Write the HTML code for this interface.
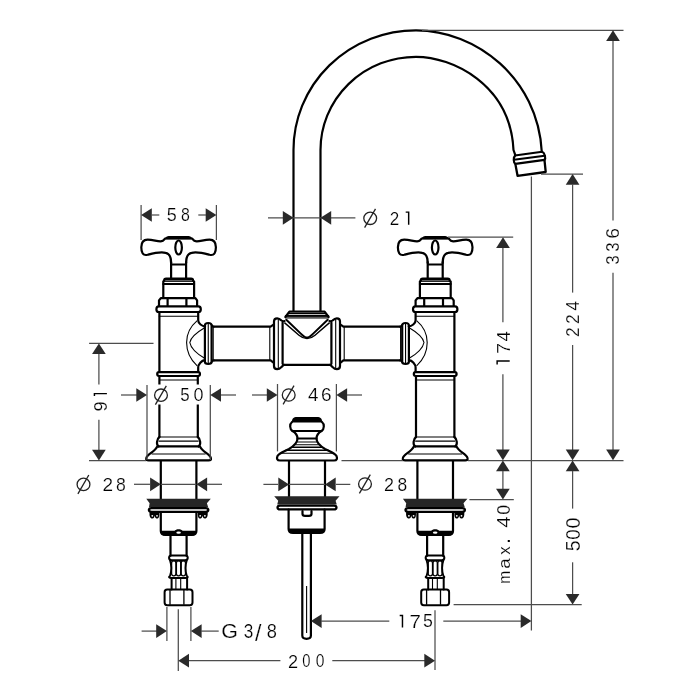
<!DOCTYPE html>
<html><head><meta charset="utf-8">
<style>
html,body{margin:0;padding:0;background:#fff;}
svg{display:block;will-change:transform;}
.o{fill:none;stroke:#000;stroke-width:2.2;stroke-linejoin:round;stroke-linecap:round;}
.t{fill:none;stroke:#000;stroke-width:1.1;}
.d{fill:none;stroke:#4d4d4d;stroke-width:1.25;}
.a{fill:#2a2a2a;stroke:none;}
.dt{fill:none;stroke:#222;stroke-width:1.3;}
.f{fill:#000;stroke:none;}
text{font-family:"Liberation Sans",sans-serif;font-size:18.8px;fill:#000;stroke:#fff;stroke-width:0.2px;}
.g1{fill:none;stroke:#000;stroke-width:1.45;}
</style></head>
<body>
<svg width="700" height="700" viewBox="0 0 700 700">
<defs>
<g id="valve">
  <!-- handle -->
  <path class="f" d="M-14,239.3 C-13,236.5 -11,236 -8,236 L8,236 C11,236 13,236.5 14,239.3 Z"/>
  <path class="o" d="M-7.5,263 C-7.5,257 -9,253.5 -13,252.8 C-19,251.5 -25,253.2 -31,254.8 C-36,256 -37.3,252 -37.3,247.3 C-37.3,242 -35.5,239.6 -31,239.6 C-25,239.6 -21,241.8 -17,241.2 C-15.5,241 -14.5,239.5 -13.5,238.5 L13.5,238.5 C14.5,239.5 15.5,241 17,241.2 C21,241.8 25,239.6 31,239.6 C35.5,239.6 37.3,242 37.3,247.3 C37.3,252 36,256 31,254.8 C25,253.2 19,251.5 13,252.8 C9,253.5 7.5,257 7.5,263"/>
  <ellipse class="o" cx="0" cy="247.5" rx="3.3" ry="7"/>
  <path class="o" d="M-7.5,262 V278.6 M7.5,262 V278.6 M-7.5,264.5 H7.5"/>
  <!-- bonnet -->
  <path class="o" d="M-15.3,297.8 V281.6 L-14.4,280.6 V280 C-14.4,279 -13.8,278.5 -12.5,278.5 H12.5 C13.8,278.5 14.4,279 14.4,280 V280.6 L15.5,281.6 V297.8"/>
  <path class="f" d="M-14.4,280.4 C-14.4,278.6 -13.8,277.9 -12.5,277.9 H12.5 C13.8,277.9 14.4,278.6 14.4,280.4 Z"/>
  <path class="t" d="M-14.6,281.3 H14.6"/>
  <path class="o" d="M-15.3,284 H15.5"/>
  <!-- hex nut -->
  <path class="o" d="M-19.6,306 V300.4 L-17.8,298.2 H16.8 L18.5,300.4 V306 M-11,298.4 V305.8 M7.8,298.4 V305.8"/>
  <!-- collar -->
  <path class="o" d="M-19.8,306.4 H19.8 C23,306.4 23,312 19.8,312 H-19.8 C-23,312 -23,306.4 -19.8,306.4 Z"/>
  <path class="t" d="M-19.8,316.2 H19.8"/>
  <!-- lower collar -->
  <path class="o" d="M-19.6,372.2 H19.6 C22,372.2 22,376 19.6,376 H-19.6 C-22,376 -22,372.2 -19.6,372.2 Z"/>
  <path class="t" d="M-19.2,380 H19.2"/>
  <path class="o" d="M-19.2,376 V437 M19.2,376 V437"/>
  <!-- base -->
  <path class="t" d="M-19.2,437 H19.2"/>
  <path class="o" d="M-19.2,437 C-22,439 -22.5,445 -20,446.5 M19.2,437 C22,439 22.5,445 20,446.5"/>
  <path class="t" d="M-20,441.1 H20"/>
  <path class="o" d="M-20,446.3 H20 M-21.5,446.8 C-24,452 -31,454 -32.3,458 C-32.8,460 -32,460.3 -30,460.3 H30 C32,460.3 32.8,460 32.3,458 C31,454 24,452 21.5,446.8"/>
  <path class="t" d="M-27,454 H27"/>
  <!-- shank -->
  <path class="o" d="M-17.8,461 V499 M17.8,461 V499"/>
  <!-- washer -->
  <path fill="#262626" d="M-32.3,498.8 H32.2 L28.3,503.3 L29.6,507.2 H-29.6 L-29,503.3 Z"/>
  <path class="o" d="M-27,508.1 H27 C30.5,508.1 30.7,511.8 27,511.8 H-27 C-30.7,511.8 -30.5,508.1 -27,508.1 Z" style="stroke-width:2.3"/>
  <path class="f" d="M-29,512 C-29.5,516 -28.5,518.5 -26.3,518.5 C-24.6,518.5 -24,517 -24.1,515.5 C-23.5,518 -22.5,518.5 -21.5,518.5 C-19.5,518.5 -19,516 -19.3,512 Z"/>
  <path class="f" d="M29,512 C29.5,516 28.5,518.5 26.3,518.5 C24.6,518.5 24,517 24.1,515.5 C23.5,518 22.5,518.5 21.5,518.5 C19.5,518.5 19,516 19.3,512 Z"/>
  <circle cx="-26.3" cy="515.8" r="0.9" fill="#fff"/><circle cx="-21.6" cy="515.8" r="0.9" fill="#fff"/>
  <circle cx="26.3" cy="515.8" r="0.9" fill="#fff"/><circle cx="21.6" cy="515.8" r="0.9" fill="#fff"/>
  <!-- lower body -->
  <path class="o" d="M-17.8,512 V531 C-17.8,534 -16,535 -13,535 H13 C16,535 17.8,534 17.8,531 V512"/>
  <path class="f" d="M-17.6,530.8 H-4 C-3,528.6 3,528.6 4,530.8 H17.6 V531.5 C17.6,534.5 16,535.6 13,535.6 H-13 C-16,535.6 -17.6,534.5 -17.6,531.5 Z"/>
  <ellipse cx="0" cy="532.6" rx="2.3" ry="1.2" fill="#fff"/>
  <!-- pipe -->
  <path class="o" d="M-8.1,535 V555.7 M8,535 V555.7"/>
  <!-- connector -->
  <path class="o" d="M-7,555.4 H6.6 C10,555.4 10,560.2 6.6,560.2 H-7 C-10.4,560.2 -10.4,555.4 -7,555.4 Z" style="stroke-width:2"/>
  <path class="o" d="M-8.6,560.2 C-7,565 -7,571 -8.6,576 C-10.4,577 -9.5,578 -7,578 H6.6 C9,578 10,577 8.2,576 C6.6,571 6.6,565 8.2,560.2" style="stroke-width:1.9"/>
  <rect x="-7" y="560.8" width="4.3" height="15" rx="2.1" fill="none" stroke="#000" stroke-width="1.3"/>
  <rect x="-2.2" y="560.8" width="4.3" height="15" rx="2.1" fill="none" stroke="#000" stroke-width="1.3"/>
  <rect x="2.6" y="560.8" width="4.3" height="15" rx="2.1" fill="none" stroke="#000" stroke-width="1.3"/>
  <path class="t" d="M-4.7,564 V572.5 M0,564 V572.5 M4.7,564 V572.5" style="stroke:#fff;stroke-width:1.2"/>
  <path class="o" d="M-7,578 V589.6 M8.5,578 V589.6" style="stroke-width:2"/>
  <path class="t" d="M-2.7,578 V589.6 M2.1,578 V589.6"/>
  <!-- nut -->
  <rect x="-14" y="589.6" width="27.9" height="15.6" rx="2.6" class="o" style="stroke-width:2"/>
  <path class="t" d="M-8.6,590 V604.8 M5.3,590 V604.8" style="stroke-width:1.3"/>
</g>
<g id="valveT">
  <path class="o" d="M-19.2,312 V372"/>
  <!-- body -->
  <path class="o" d="M19.6,312 V320.2 C19.6,323.5 23.5,326.3 26.5,326.3 M26.3,360.2 C23,360.5 19.6,364 19.6,367.6 V372"/>
  <path class="t" d="M18.6,320.7 C10,328 8,336 8,342.5 C8,350 10,358 18.6,365.8"/>
  <path class="t" d="M26,327.7 C17,333 12,338 11.2,342.5 C12,347 17,353 26,358.3"/>
  <!-- flange -->
  <path class="o" d="M26.3,325.5 C26.3,323.5 28,323 29.65,323 C31.3,323 33,323.5 33,325.5 V361.8 C33,363.5 31.3,364 29.65,364 C28,364 26.3,363.5 26.3,361.8 Z"/>
  <path class="t" d="M29.65,324 V363 M34.6,326.6 V360.4"/>
  <path class="o" d="M35.5,326.6 C34.3,326.6 33.5,325.8 33,324.8 M35.5,360.4 C34.3,360.4 33.5,361.2 33,362.2" style="stroke-width:1.8"/>
</g>
</defs>

<use href="#valve" transform="translate(178.6,0)"/>
<use href="#valve" transform="translate(435.2,0)"/>
<use href="#valveT" transform="translate(178.6,0)"/>
<use href="#valveT" transform="translate(435.2,0) scale(-1,1)"/>


<!-- pipes -->
<path class="o" d="M213,326.6 H270.6 L273.5,324.6 M213,360.4 H270.6 L273.5,362.6 M343.4,326.6 H400.7 M343.4,360.4 H400.7 M343.4,326.6 L340.5,324.6 M343.4,360.4 L340.5,362.6"/>
<path class="t" d="M269.8,326.6 V360.4 M344.2,326.6 V360.4"/>
<!-- T joint -->
<path class="o" d="M274,366 V321.5 C274,319.3 275.5,318.3 277.2,318.3 C279,318.3 280.5,319.5 281.5,320.5 C282.3,321.2 283,321.4 284.5,321.2 M274,366 C274,368.3 275.5,369.2 277.2,369.2 C279,369.2 280.5,368 281.5,367 C282.3,366.3 283,365 284,364.8"/>
<path class="o" d="M340,366 V321.5 C340,319.3 338.5,318.3 336.8,318.3 C335,318.3 333.5,319.5 332.5,320.5 C331.7,321.2 331,321.4 329.5,321.2 M340,366 C340,368.3 338.5,369.2 336.8,369.2 C335,369.2 333.5,368 332.5,367 C331.7,366.3 331,365 330,364.8"/>
<path class="o" d="M282.6,322.5 V363.8 M331.4,322.5 V363.8"/>
<path class="t" d="M278.3,319.3 V368.3 M335.7,319.3 V368.3"/>
<path class="o" d="M283.3,364.9 H330.8"/>
<path class="o" d="M286.3,319.8 L300.8,333.6 C303.6,336.4 305,337.6 307,337.6 C309,337.6 310.4,336.4 313.2,333.6 L327.7,319.8" style="stroke-width:2"/>
<path class="t" style="stroke-width:1.4" d="M284.4,322.6 L299,335.2 C302,337.8 304.5,338.6 307,338.6 C309.5,338.6 312,337.8 315,335.2 L329.6,322.6"/>
<path fill="#5a5a5a" d="M285.2,316 H328.8 C329.5,317 329.5,318.8 327.5,318.8 H286.5 C284.5,318.8 284.5,317 285.2,316 Z"/>
<path class="o" style="stroke-width:1.6" d="M285.6,315.9 H328.4"/>
<path class="o" d="M285.4,317 L289.4,311.7 H324.6 L328.6,317"/>
<path class="t" d="M288.2,313.6 H325.8"/>
<!-- spout -->
<path class="o" d="M293.5,311 V150 A122.5,119.7 0 0 1 416,30.3 C476,30.3 537.9,78 541.8,152"/>
<path class="o" d="M320.5,311 V150 A95.5,93.2 0 0 1 416,56.8 C452,56.8 510.2,84 513.5,150 L515.4,155.4"/>
<!-- nozzle -->
<g transform="translate(515.4,155.4) rotate(-7.7)">
<path class="o" d="M-0.5,0 H27 M0,0 C-2.5,1.5 -3,7 -1.2,8.4 M27,0 C29.5,1.5 30,7 28.2,8.4"/>
<path class="o" d="M-1.2,8.4 H28.2 M-1.2,8.4 L-0.6,20.5 H27.8 L28.2,8.4" style="stroke-width:2.3"/>
<path class="o" style="stroke-width:2" d="M-2,4.2 H29"/>
</g>
<!-- drain -->
<path class="f" d="M291.8,422.5 C291.8,418.5 293.5,417 297,417 H317 C320.5,417 322.2,418.5 322.2,422.5 Z"/>
<path class="o" d="M292,422 C289.5,424 289.5,429 292.5,431 C296,433 297.5,435.5 297.5,438.5 C297.5,443 294,446 289,449 C284,451.5 279,453 277.5,456 C276.5,458.5 277,460.5 280,460.5 H334 C337,460.5 337.5,458.5 336.5,456 C335,453 330,451.5 325,449 C320,446 316.5,443 316.5,438.5 C316.5,435.5 318,433 321.5,431 C324.5,429 324.5,424 322,422"/>
<path class="o" d="M292.5,431 H321.5 M297.5,438.5 H316.5"/>
<path class="t" d="M297,442 H317 M294.5,444.8 H319.5 M280.5,453.2 H333.5"/>
<path class="t" style="stroke-width:1.5" d="M291.5,447.2 H322.5 M285.5,450.2 H328.5"/>
<path class="o" d="M289,461 V497 M325,461 V497"/>
<path fill="#262626" d="M274.2,496.3 H339.5 L335.6,500.7 L336.8,504.6 H277.2 L278.2,500.7 Z"/>
<path class="o" d="M280,505.6 H334 C337.2,505.6 337.4,509.4 334,509.4 H280 C276.6,509.4 276.8,505.6 280,505.6 Z" style="stroke-width:2.3"/>
<path class="o" d="M288.6,509.7 V529 C288.6,532 290,532.9 293,532.9 H320 C323,532.9 324.6,532 324.6,529 V509.7"/>
<path class="f" d="M288.6,528.6 H324.6 C324.6,532 323,533 320,533 H293 C290,533 288.6,532 288.6,528.6 Z"/>
<path class="o" d="M302.5,511 V514 C302.5,515.5 303.5,515.8 305,515.8 H309 C310.5,515.8 311.5,515.5 311.5,514 V511"/>
<path class="o" d="M302.3,533 V635.5 C302.3,638.5 304,638.8 306.6,638.8 C309.2,638.8 310.9,638.5 310.9,635.5 V533"/>
<path class="t" d="M306.6,586 V633"/>

<!--DIMS-->
<rect x="152" y="384.5" width="52" height="20" fill="#fff"/>
<rect x="280" y="384.5" width="52" height="20" fill="#fff"/>
<path class="d" d="M422,30.3 L623.5,30.3"/>
<path class="a" d="M613,30.3 L606.15,41.0 H619.85 Z"/>
<path class="d" d="M613,41 L613,220.6"/>
<path class="d" d="M613,272.7 L613,450"/>
<path class="a" d="M613,460.3 L606.15,449.6 H619.85 Z"/>
<path class="d" d="M89,460.5 L146,460.5"/>
<path class="d" d="M341.5,460.5 L403,460.5"/>
<path class="d" d="M468,460.5 L623.5,460.5"/>
<path class="d" d="M541,174 L583,174"/>
<path class="a" d="M572.6,174 L565.75,184.7 H579.45 Z"/>
<path class="d" d="M572.6,184 L572.6,292.6"/>
<path class="d" d="M572.6,345 L572.6,450"/>
<path class="a" d="M572.6,460.3 L565.75,449.6 H579.45 Z"/>
<path class="a" d="M572.6,460.6 L565.75,471.3 H579.45 Z"/>
<path class="d" d="M572.6,471 L572.6,508.6"/>
<path class="d" d="M572.6,562.3 L572.6,594"/>
<path class="a" d="M572.6,604.6 L565.75,593.9 H579.45 Z"/>
<path class="d" d="M453.6,604.6 L581.7,604.6"/>
<path class="d" d="M448,237.2 L513.2,237.2"/>
<path class="a" d="M503,237.3 L496.15,248.0 H509.85 Z"/>
<path class="d" d="M502.9,248 L502.9,322.3"/>
<path class="d" d="M502.9,374.3 L502.9,450"/>
<path class="a" d="M502.9,460.3 L496.04999999999995,449.6 H509.75 Z"/>
<path class="a" d="M502.9,460.6 L496.04999999999995,471.3 H509.75 Z"/>
<path class="d" d="M502.9,471 L502.9,489"/>
<path class="a" d="M502.9,499.4 L496.04999999999995,488.7 H509.75 Z"/>
<path class="d" d="M469.4,499.6 L513.8,499.6"/>
<path class="d" d="M531.4,176.6 L531.4,630.5"/>
<path class="a" d="M310.9,621.1 L321.59999999999997,614.25 V627.95 Z"/>
<path class="d" d="M321,621.1 L389.3,621.1"/>
<path class="d" d="M443.3,621.1 L521,621.1"/>
<path class="a" d="M531.4,621.1 L520.6999999999999,614.25 V627.95 Z"/>
<path class="d" d="M178.3,609.3 L178.3,671"/>
<path class="d" d="M435,610.3 L435,670"/>
<path class="a" d="M178.3,660.7 L189.0,653.85 V667.5500000000001 Z"/>
<path class="d" d="M189,660.7 L280.4,660.7"/>
<path class="d" d="M332.3,660.7 L425,660.7"/>
<path class="a" d="M435,660.7 L424.3,653.85 V667.5500000000001 Z"/>
<path class="d" d="M166.9,607 L166.9,641"/>
<path class="d" d="M190.9,607 L190.9,641"/>
<path class="d" d="M141.6,631.1 L157,631.1"/>
<path class="a" d="M166.9,631.1 L156.20000000000002,624.25 V637.95 Z"/>
<path class="a" d="M190.9,631.1 L201.6,624.25 V637.95 Z"/>
<path class="d" d="M201,631.1 L218.7,631.1"/>
<path class="d" d="M141.1,205 L141.1,240"/>
<path class="d" d="M216.4,205 L216.4,240"/>
<path class="a" d="M141.1,215 L151.79999999999998,208.15 V221.85 Z"/>
<path class="d" d="M151,215 L159.3,215"/>
<path class="a" d="M216.4,215 L205.70000000000002,208.15 V221.85 Z"/>
<path class="d" d="M198.3,215 L206,215"/>
<path class="d" d="M268,217.8 L355.4,217.8"/>
<path class="a" d="M293.5,217.8 L282.8,210.95000000000002 V224.65 Z"/>
<path class="a" d="M320.5,217.8 L331.2,210.95000000000002 V224.65 Z"/>
<ellipse class="dt" cx="370.2" cy="218.3" rx="6.4" ry="6.2"/><path class="dt" d="M364.60,227.70 L375.50,208.90"/>
<path class="d" d="M147,385 L147,460"/>
<path class="d" d="M210.3,385 L210.3,460"/>
<path class="d" d="M121,395 L137,395"/>
<path class="a" d="M147,395 L136.3,388.15 V401.85 Z"/>
<path class="a" d="M210.3,395 L221.0,388.15 V401.85 Z"/>
<path class="d" d="M221,395 L236,395"/>
<ellipse class="dt" cx="161" cy="395.2" rx="6.4" ry="6.2"/><path class="dt" d="M155.40,404.60 L166.30,385.80"/>
<path class="d" d="M277.5,384 L277.5,451.4"/>
<path class="d" d="M336.4,384 L336.4,451.4"/>
<path class="d" d="M252,395 L267,395"/>
<path class="a" d="M277.5,395 L266.8,388.15 V401.85 Z"/>
<path class="a" d="M336.4,395 L347.09999999999997,388.15 V401.85 Z"/>
<path class="d" d="M347,395 L362,395"/>
<ellipse class="dt" cx="288.7" cy="395" rx="6.4" ry="6.2"/><path class="dt" d="M283.10,404.40 L294.00,385.60"/>
<path class="d" d="M89.1,343.4 L153.5,343.4"/>
<path class="a" d="M98.9,343.4 L92.05000000000001,354.09999999999997 H105.75 Z"/>
<path class="d" d="M98.9,354 L98.9,384.6"/>
<path class="d" d="M98.9,419.8 L98.9,450"/>
<path class="a" d="M98.9,460.5 L92.05000000000001,449.8 H105.75 Z"/>
<path class="d" d="M134,484.3 L150,484.3"/>
<path class="a" d="M160.8,484.3 L150.10000000000002,477.45 V491.15000000000003 Z"/>
<path class="d" d="M160.8,484.3 L196.4,484.3"/>
<path class="a" d="M196.4,484.3 L207.1,477.45 V491.15000000000003 Z"/>
<path class="d" d="M207,484.3 L222,484.3"/>
<ellipse class="dt" cx="83.5" cy="484.4" rx="6.4" ry="6.2"/><path class="dt" d="M77.90,493.80 L88.80,475.00"/>
<path class="d" d="M263.4,484.4 L278,484.4"/>
<path class="a" d="M289,484.4 L278.3,477.54999999999995 V491.25 Z"/>
<path class="d" d="M289,484.4 L325,484.4"/>
<path class="a" d="M325,484.4 L335.7,477.54999999999995 V491.25 Z"/>
<path class="d" d="M336,484.4 L350.3,484.4"/>
<ellipse class="dt" cx="365" cy="484" rx="6.4" ry="6.2"/><path class="dt" d="M359.40,493.40 L370.30,474.60"/>
<text transform="translate(166.68,221.35) scale(0.956,0.996)">5</text>
<text transform="translate(181.07,221.35) scale(0.846,0.996)">8</text>
<text transform="translate(389.69,224.70) scale(0.906,1.023)">2</text>
<path class="g1" d="M405.70,212.12 H408.67 V224.70"/>
<text transform="translate(180.22,401.47) scale(0.900,0.936)">5</text>
<text transform="translate(193.38,401.47) scale(0.956,0.936)">0</text>
<text transform="translate(307.90,401.30) scale(1.000,0.992)">4</text>
<text transform="translate(321.09,401.06) scale(1.012,0.974)">6</text>
<text transform="translate(102.39,490.90) scale(1.012,0.962)">2</text>
<text transform="translate(116.00,490.66) scale(0.937,0.943)">8</text>
<text transform="translate(384.05,490.90) scale(0.953,0.962)">2</text>
<text transform="translate(397.61,490.66) scale(0.926,0.943)">8</text>
<path class="g1" d="M399.70,615.52 H402.47 V627.60"/>
<text transform="translate(409.61,627.60) scale(1.094,0.985)">7</text>
<text transform="translate(422.89,627.36) scale(0.944,0.966)">5</text>
<text transform="translate(287.94,667.60) scale(0.965,1.015)">2</text>
<text transform="translate(302.31,667.35) scale(0.789,0.996)">0</text>
<text transform="translate(315.77,667.35) scale(0.833,0.996)">0</text>
<text transform="translate(221.36,638.24) scale(1.143,1.057)">G</text>
<text transform="translate(243.81,638.24) scale(0.914,1.057)">3</text>
<text transform="translate(266.77,638.24) scale(0.971,1.057)">8</text>
<text transform="translate(255.00,641.19) scale(1.238,1.236)">/</text>
<text transform="translate(619.35,264.68) rotate(-90) scale(0.903,1.004)">3</text>
<text transform="translate(619.35,251.67) rotate(-90) scale(0.891,1.004)">3</text>
<text transform="translate(619.35,238.72) rotate(-90) scale(1.024,1.004)">6</text>
<text transform="translate(579.40,336.93) rotate(-90) scale(0.929,1.000)">2</text>
<text transform="translate(579.40,323.93) rotate(-90) scale(0.929,1.000)">2</text>
<text transform="translate(579.40,310.87) rotate(-90) scale(0.947,1.000)">4</text>
<path class="g1" d="M509.70,361.03 H497.12 V364.50"/>
<text transform="translate(509.70,354.06) rotate(-90) scale(1.059,1.023)">7</text>
<text transform="translate(509.70,341.49) rotate(-90) scale(0.989,1.023)">4</text>
<text transform="translate(580.03,551.18) rotate(-90) scale(1.044,1.072)">5</text>
<text transform="translate(580.03,539.65) rotate(-90) scale(1.000,1.072)">0</text>
<text transform="translate(580.03,528.48) rotate(-90) scale(1.044,1.072)">0</text>
<text transform="translate(510.20,527.84) rotate(-90) scale(1.084,1.023)">4</text>
<text transform="translate(509.95,514.71) rotate(-90) scale(0.944,1.004)">0</text>
<text transform="translate(510.20,583.64) rotate(-90) scale(0.830,0.850)">m</text>
<text transform="translate(509.99,568.75) rotate(-90) scale(0.995,0.829)">a</text>
<text transform="translate(510.20,554.82) rotate(-90) scale(0.891,0.850)">x</text>
<text transform="translate(510.20,544.00) rotate(-90) scale(1.143,1.200)">.</text>
<text transform="translate(106.65,411.48) rotate(-90) scale(0.976,0.996)">9</text>
<path class="g1" d="M106.90,393.62 H94.42 V395.90"/>
<!--/DIMS-->
</svg>
</body></html>
